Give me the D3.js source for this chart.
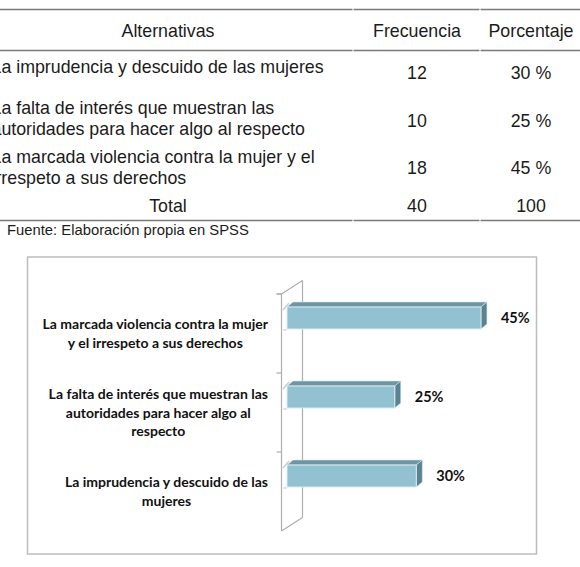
<!DOCTYPE html>
<html>
<head>
<meta charset="utf-8">
<script src="https://cdn.jsdelivr.net/npm/d3@7"></script>
<style>
  body { margin: 0; background: #fff; }
  svg { display: block; }
</style>
</head>
<body>
<div id="graph"></div>
<script>
      // page size
      var w = 580;
      var h = 567;

      // ---- table data ----
      var encabezados = ["Alternativas", "Frecuencia", "Porcentaje"];
      var alternativas = [
        ["La imprudencia y descuido de las mujeres"],
        ["La falta de interés que muestran las", "autoridades para hacer algo al respecto"],
        ["La marcada violencia contra la mujer y el", "irrespeto a sus derechos"]
      ];
      var frecuencia = ["12", "10", "18"];
      var porcentajeTxt = ["30 %", "25 %", "45 %"];
      var totalFila = ["Total", "40", "100"];
      var fuente = "Fuente: Elaboración propia en SPSS";

      // ---- chart data (bottom to top, like the Excel chart) ----
      var categorias = ["imprudencia", "falta", "violencia"];
      var etiquetas = [
        ["La imprudencia y descuido de las", "mujeres"],
        ["La falta de interés que muestran las", "autoridades para hacer algo al", "respecto"],
        ["La marcada violencia contra la mujer", "y el irrespeto a sus derechos"]
      ];
      var valores = [30, 25, 45];

      var svg = d3.select("#graph")
                  .append("svg")
                  .attr("width", w)
                  .attr("height", h);

      // ================= TABLE =================
      var colX = [168, 417, 531];     // column centres
      var colBreaks = [353, 480];    // small gaps in the rules
      var tFont = "Liberation Sans, Arial, sans-serif";

      // horizontal rules, broken at the column borders
      function rule(y){
        var segs = [[0, colBreaks[0] - 0.5], [colBreaks[0] + 0.5, colBreaks[1] - 0.5], [colBreaks[1] + 0.5, w]];
        svg.selectAll(null)
            .data(segs)
            .enter()
            .append("line")
            .attr("x1", function(d){ return d[0]; })
            .attr("x2", function(d){ return d[1]; })
            .attr("y1", y)
            .attr("y2", y)
            .attr("stroke", "#7a7a7a")
            .attr("stroke-width", 1.6);
      }
      rule(9.5);
      rule(50.5);
      rule(220.5);

      var table = svg.append("g")
          .attr("font-family", tFont)
          .attr("font-size", "17.8px")
          .attr("fill", "#1b1b1b");

      table.selectAll(".hdr")
          .data(encabezados)
          .enter()
          .append("text")
          .attr("class", "hdr")
          .attr("x", function(d, i){ return colX[i]; })
          .attr("y", 37)
          .attr("text-anchor", "middle")
          .text(function(d){ return d; });

      // row layout: first baseline of alternative text, baseline of numbers
      var rowTextY = [73, 114, 163];
      var rowValY = [79, 127, 174];

      // the page is cropped on the left, so the first letters run off the edge
      alternativas.forEach(function(lines, i){
        table.selectAll(null)
            .data(lines)
            .enter()
            .append("text")
            .attr("x", -8.5)
            .attr("y", function(d, j){ return rowTextY[i] + j * 20.5; })
            .text(function(d){ return d; });
      });

      table.selectAll(".frec")
          .data(frecuencia)
          .enter()
          .append("text")
          .attr("class", "frec")
          .attr("x", colX[1])
          .attr("y", function(d, i){ return rowValY[i]; })
          .attr("text-anchor", "middle")
          .text(function(d){ return d; });

      table.selectAll(".porc")
          .data(porcentajeTxt)
          .enter()
          .append("text")
          .attr("class", "porc")
          .attr("x", colX[2])
          .attr("y", function(d, i){ return rowValY[i]; })
          .attr("text-anchor", "middle")
          .text(function(d){ return d; });

      table.selectAll(".tot")
          .data(totalFila)
          .enter()
          .append("text")
          .attr("class", "tot")
          .attr("x", function(d, i){ return colX[i]; })
          .attr("y", 212)
          .attr("text-anchor", "middle")
          .text(function(d){ return d; });

      svg.append("text")
          .attr("x", 7)
          .attr("y", 235)
          .attr("font-family", tFont)
          .attr("font-size", "14.8px")
          .attr("fill", "#1b1b1b")
          .text(fuente);

      // ================= CHART =================
      // outer chart box
      svg.append("rect")
          .attr("x", 27.5)
          .attr("y", 257)
          .attr("width", 509)
          .attr("height", 297)
          .attr("fill", "#fff")
          .attr("stroke", "#bdbdbd")
          .attr("stroke-width", 1.5);

      var depth = [21, -13.5];   // oblique offset of the 3D wall
      var wallX = 281.5;

      // band scale along the back wall, first category at the bottom
      var yScale = d3.scaleBand()
                      .domain(categorias)
                      .range([531, 294]);

      var xScale = d3.scaleLinear()
                      .domain([0, 50])
                      .range([287, 502.5]);

      var wall = svg.append("g")
          .attr("fill", "none")
          .attr("stroke", "#adadad")
          .attr("stroke-width", 1.2);

      var y0 = yScale.range()[1], y1 = yScale.range()[0];
      wall.append("line")   // back edge
          .attr("x1", wallX).attr("x2", wallX)
          .attr("y1", y0).attr("y2", y1);
      wall.append("line")   // front edge
          .attr("x1", wallX + depth[0]).attr("x2", wallX + depth[0])
          .attr("y1", y0 + depth[1]).attr("y2", y1 + depth[1]);
      wall.append("line")
          .attr("x1", wallX).attr("x2", wallX + depth[0])
          .attr("y1", y0).attr("y2", y0 + depth[1]);
      wall.append("line")
          .attr("x1", wallX).attr("x2", wallX + depth[0])
          .attr("y1", y1).attr("y2", y1 + depth[1]);

      // tick marks at band boundaries
      var tickYs = categorias.map(function(c){ return yScale(c); }).concat([y0]);
      wall.selectAll(".tick")
          .data(tickYs)
          .enter()
          .append("line")
          .attr("x1", wallX - 5)
          .attr("x2", wallX)
          .attr("y1", function(d){ return d; })
          .attr("y2", function(d){ return d; });

      // bars
      var barH = 22;
      var bd = [6, -5];   // bar depth
      function barCy(c){ return yScale(c) + yScale.bandwidth() / 2 - 15.5; }

      var bars = svg.append("g");
      categorias.forEach(function(c, i){
        var x0 = xScale(0), x1 = xScale(valores[i]);
        var top = barCy(c) - barH / 2, bot = barCy(c) + barH / 2;
        // top face
        bars.append("polygon")
            .attr("points", [[x0, top], [x0 + bd[0], top + bd[1]], [x1 + bd[0], top + bd[1]], [x1, top]].join(" "))
            .attr("fill", "#6d95a3")
            .attr("stroke", "#d5e5ea")
            .attr("stroke-width", 0.6);
        // side face
        bars.append("polygon")
            .attr("points", [[x1, top], [x1 + bd[0], top + bd[1]], [x1 + bd[0], bot + bd[1]], [x1, bot]].join(" "))
            .attr("fill", "#5a8291")
            .attr("stroke", "#d5e5ea")
            .attr("stroke-width", 0.6);
        // front face
        bars.append("rect")
            .attr("x", x0)
            .attr("y", top)
            .attr("width", x1 - x0)
            .attr("height", barH)
            .attr("fill", "#92c2d2")
            .attr("stroke", "#d9eaf0")
            .attr("stroke-width", 1);
        // light left end of the bar, seen through the wall
        bars.append("line")
            .attr("x1", x0 - 4).attr("y1", top + 3)
            .attr("x2", x0 + 2).attr("y2", top - 4)
            .attr("stroke", "#c9c9c9")
            .attr("stroke-width", 1.2);
        bars.append("line")
            .attr("x1", x0 - 4).attr("y1", bot + 1)
            .attr("x2", x0).attr("y2", bot + 1)
            .attr("stroke", "#c9c9c9")
            .attr("stroke-width", 1);
      });

      // value labels
      var lFont = "Lato, 'Open Sans', sans-serif";
      svg.selectAll(".val")
          .data(valores)
          .enter()
          .append("text")
          .attr("class", "val")
          .attr("x", function(d){ return xScale(d) + 20; })
          .attr("y", function(d, i){ return barCy(categorias[i]) + 5; })
          .attr("font-family", lFont)
          .attr("font-weight", "bold")
          .attr("font-size", "14.5px")
          .attr("fill", "#111")
          .text(function(d){ return d + "%"; });

      // category labels: block right-aligned to the wall, lines centred in it
      var labelRight = 268;
      var lineH = 18.5;
      categorias.forEach(function(c, i){
        var lines = etiquetas[i];
        var g = svg.append("g")
            .attr("font-family", lFont)
            .attr("font-weight", "bold")
            .attr("font-size", "14px")
            .attr("fill", "#111")
            .attr("text-anchor", "middle");
        var cy = yScale(c) + yScale.bandwidth() / 2;
        var txt = g.selectAll("text")
            .data(lines)
            .enter()
            .append("text")
            .attr("y", function(d, j){ return cy + (j - (lines.length - 1) / 2) * lineH + 5; })
            .text(function(d){ return d; });
        var maxW = d3.max(txt.nodes(), function(n){ return n.getComputedTextLength(); });
        txt.attr("x", labelRight - maxW / 2);
      });
</script>
</body>
</html>
